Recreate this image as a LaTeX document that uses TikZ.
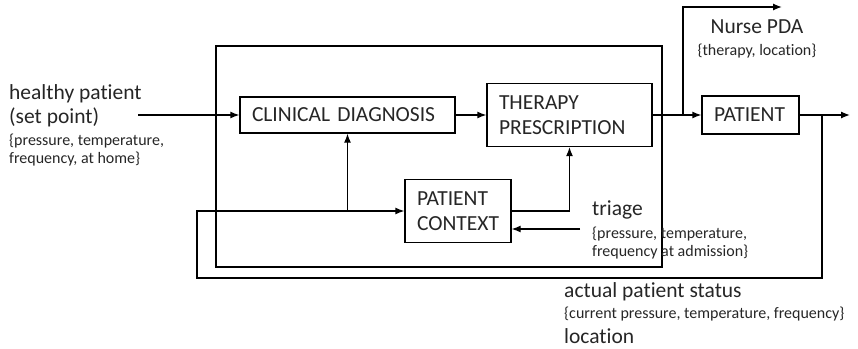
\documentclass[tikz,border=0pt]{standalone}
\usepackage{fontspec}
\setmainfont{Carlito}[Ligatures=NoCommon]
\usetikzlibrary{arrows.meta}
\def\bigtext{\fontsize{21.5}{24}\selectfont}
\def\boxtext{\fontsize{21.5}{25}\selectfont}
\def\smalltext{\fontsize{16}{18}\selectfont}
\tikzset{
  block/.style={draw,line width=1.3pt,inner xsep=12pt,inner ysep=0pt,align=left,font=\boxtext,text=black!85},
  flow/.style={line width=1.3pt,-{Latex[length=9pt,width=7pt]}},
  lbl/.style={inner sep=0pt,align=left,text=black!85}
}

\begin{document}
\begin{tikzpicture}[x=1pt,y=-1pt]
	\useasboundingbox (0,0) rectangle (858,348);
	
	%controller frame
	\draw[line width=2.4pt] (216,46) rectangle (662,267);
	
	\node[block,minimum height=36pt,text width=191pt] (diag) at (347.5,115) {CLINICAL DIAGNOSIS};
	\node[block,minimum height=63pt,text width=141pt] (therapy) at (569.5,115) {THERAPY\\PRESCRIPTION};
	\node[block,minimum height=63pt,text width=82pt] (context) at (458,211) {PATIENT\\CONTEXT};
	\node[block,minimum height=38pt,text width=73pt] (patient) at (750.5,115) {PATIENT};
	
	\coordinate (setpoint) at (138,115);
	\coordinate (split) at (683,115);
	\coordinate (pda) at (782,7);
	\coordinate (fb) at (822,115);
	\coordinate (out) at (850,115);
	\coordinate (fbright) at (822,278);
	\coordinate (fbleft) at (197,278);
	\coordinate (fbup) at (197,211);
	\coordinate (triage) at (580,229);
	
	%signal flow
	\draw[flow] (setpoint) -- (diag.west);
	\draw[flow] (diag.east) -- (therapy.west);
	\draw[flow] (therapy.east) -- (patient.west);
	\draw[flow] (split) |- (pda);
	\draw[flow] (patient.east) -- (out);
	\draw[flow] (fb) -- (fbright) -- (fbleft) -- (fbup) -- (context.west);
	\draw[flow] (diag.south |- context.west) -- (diag.south);
	\draw[flow] (context.east) -| (therapy.south);
	\draw[flow] (triage) -- (triage -| context.east);
	
	%labels (base = last line)
	\node[lbl,anchor=base west,font=\bigtext] (healthy) at (9,123) {healthy patient\\(set point)};
	\node[lbl,anchor=base west,font=\smalltext] (healthyvals) at (9,163) {\{pressure, temperature,\\frequency, at home\}};
	\node[lbl,anchor=base,font=\bigtext] (nurse) at (757,33) {Nurse PDA};
	\node[lbl,anchor=base,font=\smalltext] (nursevals) at (757,55) {\{therapy, location\}};
	\node[lbl,anchor=base west,font=\bigtext] (triagelbl) at (592,215) {triage};
	\node[lbl,anchor=base west,font=\smalltext] (triagevals) at (592,256) {\{pressure, temperature,\\frequency at admission\}};
	\node[lbl,anchor=base west,font=\bigtext] (status) at (564,297) {actual patient status};
	\node[lbl,anchor=base west,font=\smalltext] (statusvals) at (564,318) {\{current pressure, temperature, frequency\}};
	\node[lbl,anchor=base west,font=\bigtext] (location) at (564,343) {location};
\end{tikzpicture}
\end{document}
